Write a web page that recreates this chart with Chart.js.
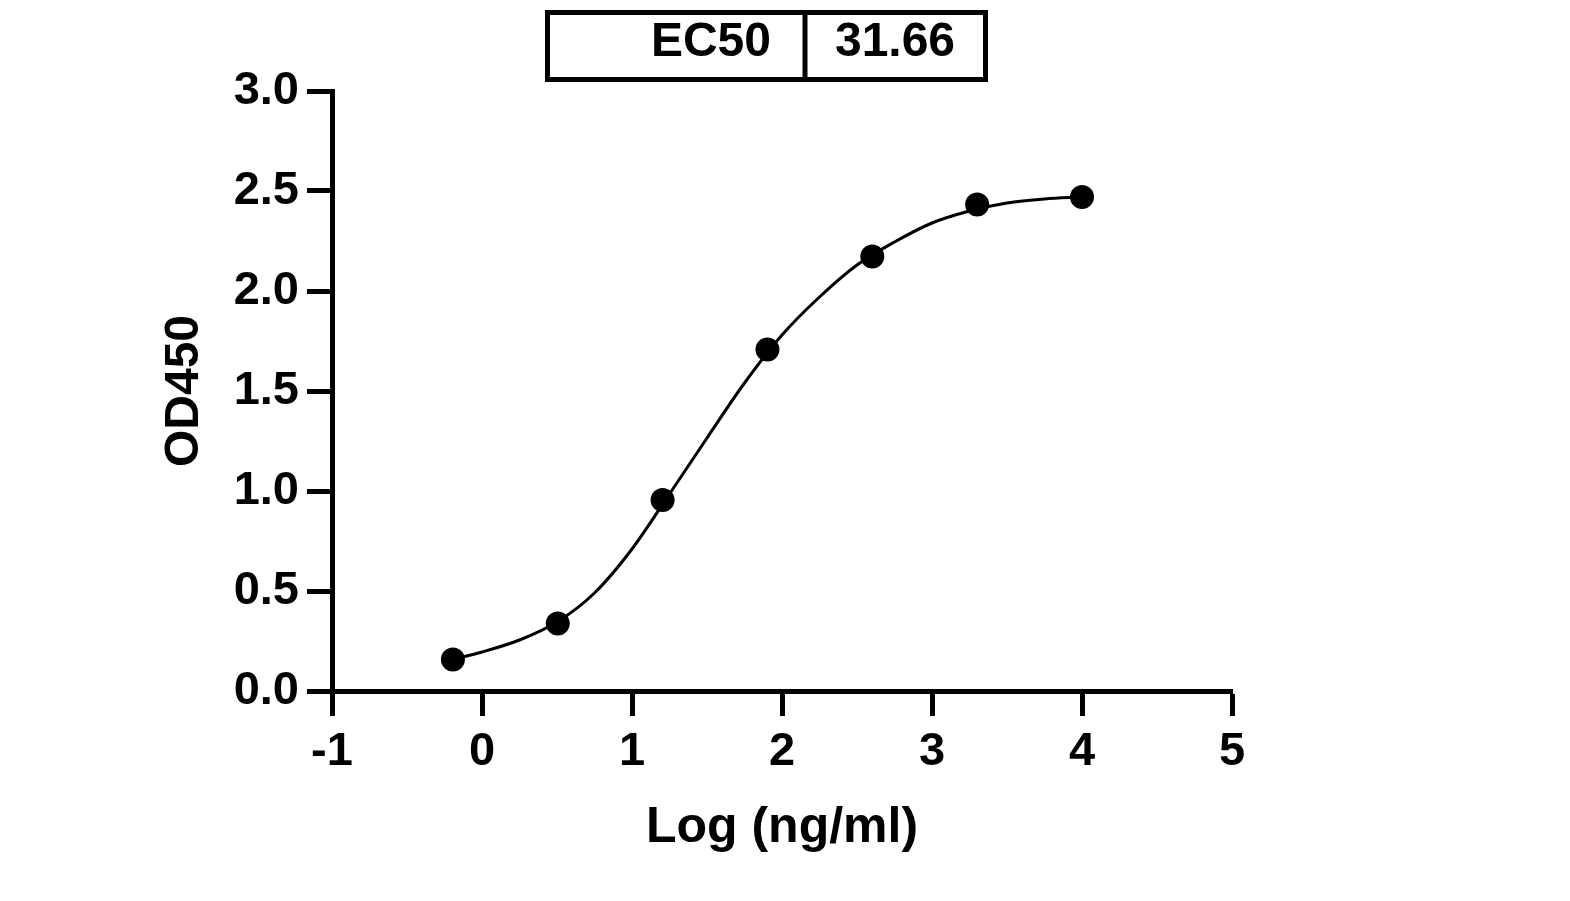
<!DOCTYPE html>
<html>
<head>
<meta charset="utf-8">
<title>EC50 curve</title>
<script src="https://cdn.jsdelivr.net/npm/chart.js@4.4.1/dist/chart.umd.min.js"></script>
<style>
  html, body { margin: 0; padding: 0; background: #fff; }
  #wrap { width: 1570px; height: 901px; }
</style>
</head>
<body>
<div id="wrap"><canvas id="ec50Chart" width="1570" height="901"></canvas></div>
<script>
// Measured points (log concentration vs OD450)
const logConc = [-0.194, 0.505, 1.204, 1.903, 2.602, 3.301, 4.0];
const od450 = [0.158, 0.337, 0.955, 1.708, 2.173, 2.433, 2.47];

// Fitted curve
const curveX = [-0.194, 0, 0.25, 0.5, 0.75, 1.0, 1.25, 1.5, 1.75, 2.0, 2.25, 2.5, 2.75, 3.0, 3.25, 3.5, 3.75, 4.0];
const curveY = [0.158, 0.195, 0.255, 0.345, 0.49, 0.71, 0.985, 1.265, 1.54, 1.78, 1.97, 2.13, 2.245, 2.34, 2.40, 2.44, 2.46, 2.47];

// Tick labels
const xTickLabels = ["-1", "0", "1", "2", "3", "4", "5"];
const yTickLabels = ["0.0", "0.5", "1.0", "1.5", "2.0", "2.5", "3.0"];

// EC50 table
const ec50Label = "EC50";
const ec50Value = "31.66";

const FONT = "'Liberation Sans', Arial, sans-serif";

// Draws the little EC50 table above the plot
const ec50Box = {
  id: "ec50Box",
  afterDraw(chart) {
    const { ctx } = chart;
    ctx.save();
    ctx.strokeStyle = "#000";
    ctx.lineWidth = 5;
    ctx.strokeRect(547.5, 12.5, 438, 67);
    ctx.beginPath();
    ctx.moveTo(805, 12.5);
    ctx.lineTo(805, 79.5);
    ctx.stroke();

    ctx.fillStyle = "#000";
    ctx.font = `bold 48px ${FONT}`;
    ctx.textBaseline = "middle";
    ctx.textAlign = "right";
    ctx.fillText(ec50Label, 771, 43);
    ctx.textAlign = "center";
    ctx.fillText(ec50Value, 895, 43);
    ctx.restore();
  },
};

const ctx = document.getElementById("ec50Chart").getContext("2d");

new Chart(ctx, {
  type: "scatter",
  data: {
    datasets: [
      {
        label: "OD450",
        data: logConc.map((x, i) => ({ x, y: od450[i] })),
        showLine: false,
        pointRadius: 12,
        pointHoverRadius: 12,
        pointBackgroundColor: "#000",
        pointBorderColor: "#000",
        pointBorderWidth: 0,
      },
      {
        label: "Fit",
        data: curveX.map((x, i) => ({ x, y: curveY[i] })),
        showLine: true,
        cubicInterpolationMode: "monotone",
        borderColor: "#000",
        borderWidth: 3,
        pointRadius: 0,
        pointHoverRadius: 0,
      },
    ],
  },
  options: {
    responsive: false,
    animation: false,
    devicePixelRatio: 1,
    layout: { padding: { top: 91, right: 338, left: 0, bottom: 0 } },
    plugins: {
      legend: { display: false },
      tooltip: { enabled: false },
    },
    scales: {
      x: {
        type: "linear",
        min: -1,
        max: 5,
        ticks: {
          stepSize: 1,
          color: "#000",
          padding: 8,
          font: { family: FONT, size: 47, weight: "bold" },
          callback: (v, i) => xTickLabels[i],
        },
        grid: {
          drawOnChartArea: false,
          tickLength: 25,
          tickWidth: 5,
          tickColor: "#000",
        },
        border: { color: "#000", width: 5 },
        title: {
          display: true,
          text: "Log (ng/ml)",
          color: "#000",
          font: { family: FONT, size: 50, weight: "bold" },
          padding: { top: 0, bottom: 43 },
        },
        afterFit: (scale) => { scale.height = 210; },
      },
      y: {
        min: 0,
        max: 3,
        ticks: {
          stepSize: 0.5,
          color: "#000",
          padding: 8,
          font: { family: FONT, size: 47, weight: "bold" },
          callback: (v, i) => yTickLabels[i],
        },
        grid: {
          drawOnChartArea: false,
          tickLength: 25,
          tickWidth: 5,
          tickColor: "#000",
        },
        border: { color: "#000", width: 5 },
        title: {
          display: true,
          text: "OD450",
          color: "#000",
          font: { family: FONT, size: 48, weight: "bold" },
          padding: { top: 156, bottom: 0 },
        },
        afterFit: (scale) => { scale.width = 332; },
      },
    },
  },
  plugins: [ec50Box],
});
</script>
</body>
</html>
